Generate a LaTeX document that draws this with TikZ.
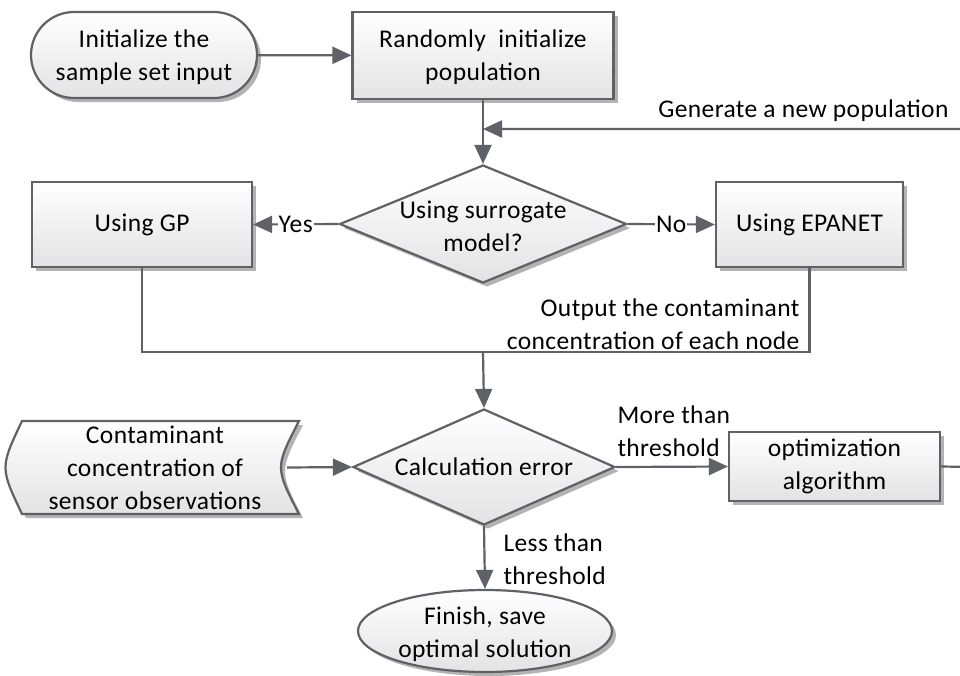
\documentclass[tikz,border=0pt]{standalone}
\usepackage{fontspec}
\setmainfont{Carlito}[LetterSpace=1.5]
\usetikzlibrary{shapes.geometric,arrows.meta,shadows,calc,backgrounds}
\definecolor{linegray}{RGB}{96,97,102}
\tikzset{
  every node/.style={font=\fontsize{25.5}{33}\selectfont, align=center, text=black},
  boxfill/.style={draw=linegray, line width=2.2pt, top color=white, bottom color=black!11,
    drop shadow={shadow xshift=4pt, shadow yshift=-4pt, fill=black!50, opacity=0.6}},
  procbox/.style={boxfill, rectangle, inner sep=0pt},
  startbox/.style={boxfill, rectangle, rounded corners=43pt, inner sep=0pt},
  decision/.style={boxfill, diamond, inner sep=0pt},
  endbox/.style={boxfill, ellipse, inner sep=0pt},
  flow/.style={draw=linegray, line width=2.2pt, -{Triangle[length=19pt,width=17pt]}},
  plain/.style={draw=linegray, line width=2.2pt},
  onlabel/.style={fill=white, inner sep=1pt},
}
\begin{document}
\begin{tikzpicture}[x=1pt,y=-1pt]
\useasboundingbox (0,0) rectangle (960,675);
\clip (0,0) rectangle (960,675);

% process steps
\node[startbox, minimum width=226, minimum height=86] (start) at (144,55) {};
\node at ([yshift=-2pt]start.center) {Initialize the\\sample set input};
\node[procbox, minimum width=261, minimum height=87] (init) at (483,55.5) {};
\node at ([yshift=-2pt]init.center) {Randomly\ \ initialize\\population};
\node[decision, minimum width=287, minimum height=118] (d1) at (483,224) {};
\node at ([yshift=-2pt]d1.center) {Using surrogate\\model?};
\node[procbox, minimum width=220, minimum height=85] (gp) at (142,224.5) {Using GP};
\node[procbox, minimum width=187, minimum height=85] (epa) at (809.5,224.5) {Using EPANET};
\node[decision, minimum width=262, minimum height=116] (d2) at (484,467) {};
\node at (d2.center) {Calculation error};
\node[procbox, minimum width=211, minimum height=69] (opt) at (834.5,466.5) {optimization\\algorithm};
\node[endbox, minimum width=254, minimum height=82] (fin) at (485,631) {};
\node at ([yshift=-3pt]fin.center) {Finish, save\\optimal solution};

% stored data: sensor observations
\path[boxfill] (22,421) -- (299,421) .. controls (275,467.5) .. (299,514)
  -- (22,514) .. controls (0,467.5) .. (22,421) -- cycle;
\node[minimum width=264, minimum height=93, inner sep=0pt] (sensor) at (155,467.5)
  {Contaminant\\concentration of\\sensor observations};

% junction points
\coordinate (j1) at (483,129);
\coordinate (m) at (483,352);
\coordinate (loopx) at (975,467);

% connectors
\draw[flow] (start) -- (init);
\draw[flow] (init) -- (d1.north);
\draw[flow] (opt.east) -- (loopx) |- (j1);
\draw[flow] (d1.west) -- node[onlabel] {Yes} (gp.east);
\draw[flow] (d1.east) -- node[onlabel] {No} (epa.west);
\draw[plain] (gp.south) |- (m);
\draw[plain] (epa.south) |- (m);
\draw[flow] (m) -- (d2.north);
\draw[flow] (sensor.east) -- (d2.west);
\draw[flow] (d2.east) -- (opt.west);
\draw[flow] (d2.south) -- (fin.north);

% annotations
\node[anchor=east] at (952,111) {Generate a new population};
\node[anchor=east, align=right] at (803,324) {Output the contaminant\\concentration of each node};
\node[anchor=west, align=left] at (614,431) {More than\\threshold};
\node[anchor=west, align=left] at (500,559) {Less than\\threshold};
\end{tikzpicture}
\end{document}
